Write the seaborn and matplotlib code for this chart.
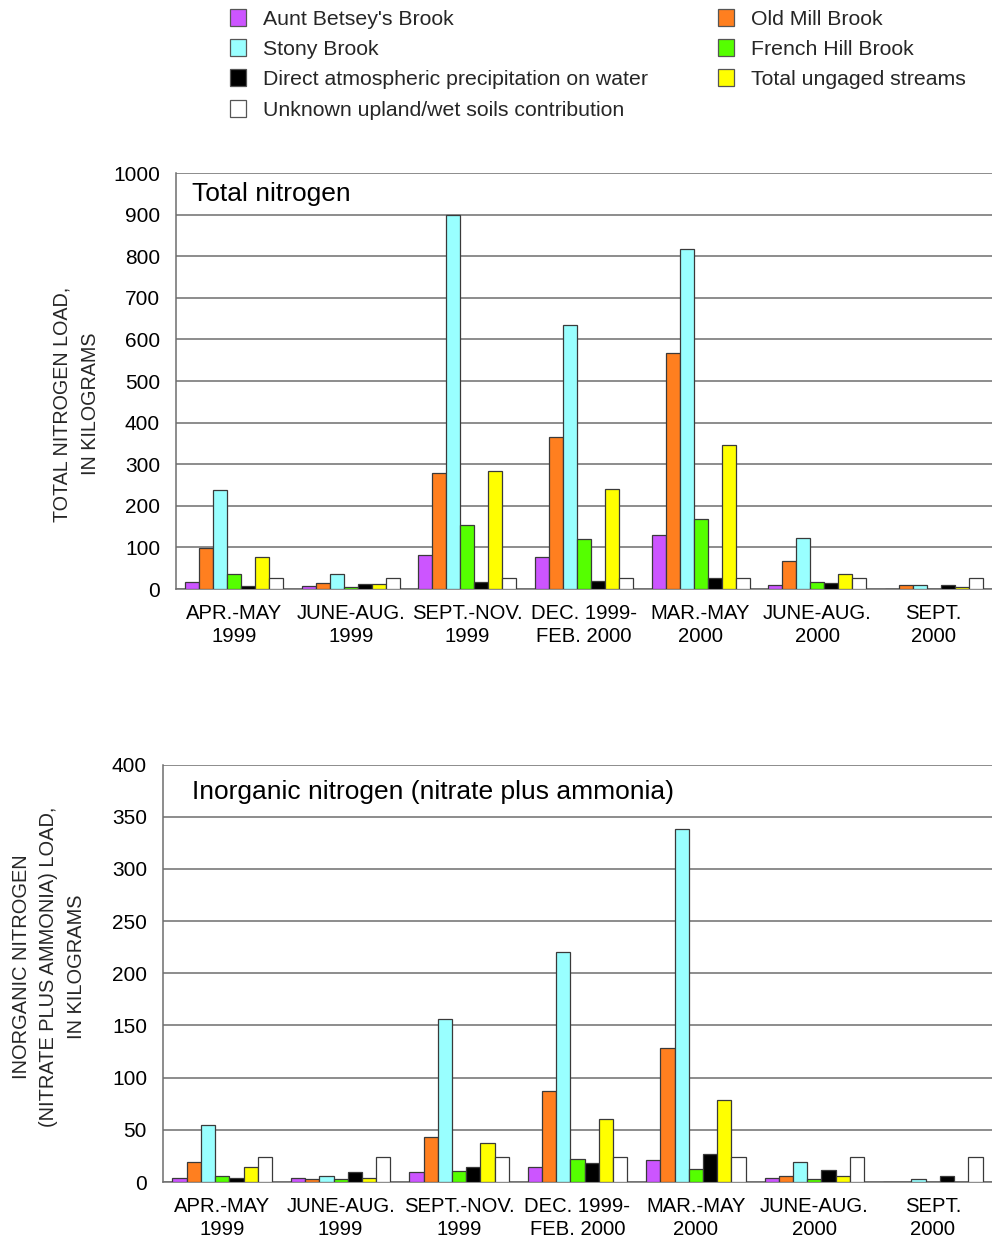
import matplotlib
matplotlib.use("Agg")
import matplotlib.pyplot as plt
from matplotlib.patches import Patch
from matplotlib.ticker import FixedLocator
import seaborn as sns
import pandas as pd

# Sampling periods (x-axis groups)
periods = ["APR.-MAY\n1999", "JUNE-AUG.\n1999", "SEPT.-NOV.\n1999",
           "DEC. 1999-\nFEB. 2000", "MAR.-MAY\n2000", "JUNE-AUG.\n2000",
           "SEPT.\n2000"]

# Sources, in bar order within each group
sources = ["Aunt Betsey's Brook", "Old Mill Brook", "Stony Brook",
           "French Hill Brook", "Direct atmospheric precipitation on water",
           "Total ungaged streams", "Unknown upland/wet soils contribution"]
source_colors = ["#CC55FF", "#FF7F1F", "#99FFFF", "#55FF00",
                 "#000000", "#FFFF00", "#FFFFFF"]

# Total nitrogen load, kg
tn_aunt_betsey = [18, 7, 81, 77, 129, 10, 0]
tn_old_mill = [98, 14, 278, 366, 567, 67, 9]
tn_stony = [238, 35, 899, 634, 817, 122, 9]
tn_french_hill = [35, 5, 153, 119, 168, 16, 0]
tn_precip = [7, 13, 16, 19, 27, 14, 10]
tn_ungaged = [77, 13, 283, 240, 345, 36, 5]
tn_unknown = [26, 26, 26, 26, 26, 26, 26]

# Inorganic nitrogen (nitrate plus ammonia) load, kg
in_aunt_betsey = [3.5, 3.5, 10, 14.5, 21, 3.5, 0]
in_old_mill = [19.5, 2.5, 43, 87, 128.5, 6, 0]
in_stony = [55, 6, 156.5, 220.5, 338, 19.5, 2.5]
in_french_hill = [6, 2.5, 11, 22.5, 12.5, 2.5, 0]
in_precip = [3.5, 10, 14.5, 18, 27, 11.5, 6]
in_ungaged = [14.5, 3.5, 37, 60.5, 78.5, 6, 0]
in_unknown = [23.5, 23.5, 23.5, 23.5, 23.5, 23.5, 23.5]

y_ticks_tn = [0, 100, 200, 300, 400, 500, 600, 700, 800, 900, 1000]
y_ticks_in = [0, 50, 100, 150, 200, 250, 300, 350, 400]


def long_frame(series):
    rows = []
    for src, vals in zip(sources, series):
        for per, v in zip(periods, vals):
            rows.append({"period": per, "source": src, "load": v})
    return pd.DataFrame(rows)


tn_df = long_frame([tn_aunt_betsey, tn_old_mill, tn_stony, tn_french_hill,
                    tn_precip, tn_ungaged, tn_unknown])
in_df = long_frame([in_aunt_betsey, in_old_mill, in_stony, in_french_hill,
                    in_precip, in_ungaged, in_unknown])

sns.set_theme(style="white")
plt.rcParams["font.family"] = ["Liberation Sans", "DejaVu Sans"]

W, H = 992, 1239
fig = plt.figure(figsize=(W / 100, H / 100), dpi=100)

GRID = "#6e6e6e"
EDGE = "#3a3a3a"


def px_axes(left, top, right, bottom):
    return fig.add_axes([left / W, 1 - bottom / H, (right - left) / W, (bottom - top) / H])


def draw_panel(ax, df, ticks, title, title_xy):
    sns.barplot(data=df, x="period", y="load", hue="source", order=periods,
                hue_order=sources, palette=source_colors, width=0.84,
                edgecolor=EDGE, linewidth=0.9, saturation=1, legend=False,
                errorbar=None, ax=ax, zorder=3)
    ax.set_xlim(-0.5, 6.5)
    ax.set_ylim(ticks[0], ticks[-1])
    ax.yaxis.set_major_locator(FixedLocator(ticks))
    ax.grid(axis="y", color=GRID, linewidth=1.1, zorder=0)
    ax.set_axisbelow(True)
    for s in ["top", "right"]:
        ax.spines[s].set_visible(False)
    for s in ["left", "bottom"]:
        ax.spines[s].set_color(GRID)
        ax.spines[s].set_linewidth(1.1)
    ax.set_xlabel("")
    ax.set_ylabel("")
    ax.tick_params(axis="y", which="major", length=8, width=1.1, color=GRID,
                   labelsize=15, pad=3.5, labelcolor="black")
    ax.tick_params(axis="x", which="major", length=0, labelsize=14.6, pad=11,
                   labelcolor="black")
    ax.xaxis.set_minor_locator(FixedLocator([0.5, 1.5, 2.5, 3.5, 4.5, 5.5]))
    ax.tick_params(axis="x", which="minor", length=7, width=1.1, color=GRID,
                   direction="out")
    for lab in ax.get_xticklabels():
        lab.set_linespacing(1.22)
    ax.text(title_xy[0], title_xy[1], title, transform=ax.transAxes,
            fontsize=19, ha="left", va="center", color="black")


ax1 = px_axes(176, 173, 992, 589)
draw_panel(ax1, tn_df, y_ticks_tn, "Total nitrogen", (0.0196, 0.9495))

ax2 = px_axes(163, 764.5, 992, 1182)
draw_panel(ax2, in_df, y_ticks_in, "Inorganic nitrogen (nitrate plus ammonia)",
           (0.035, 0.935))

fig.text(76 / W, 1 - 404 / H, "TOTAL NITROGEN LOAD,\nIN KILOGRAMS",
         rotation=90, ha="center", va="center", fontsize=14.2, linespacing=1.65)
fig.text(49 / W, 1 - 967 / H,
         "INORGANIC NITROGEN\n(NITRATE PLUS AMMONIA) LOAD,\nIN KILOGRAMS",
         rotation=90, ha="center", va="center", fontsize=14.4, linespacing=1.58)

# Legend split into two columns of sources
handles = {s: Patch(facecolor=c, edgecolor="#555555", linewidth=0.9)
           for s, c in zip(sources, source_colors)}
left_col = [sources[0], sources[2], sources[4], sources[6]]
right_col = [sources[1], sources[3], sources[5]]
leg_kw = dict(frameon=False, fontsize=15.3, handlelength=0.76, handleheight=0.85,
              handletextpad=0.8, labelspacing=0.49, borderpad=0, borderaxespad=0,
              loc="upper left")
fig.legend([handles[s] for s in left_col], left_col,
           bbox_to_anchor=(230 / W, 1 - 9 / H), **leg_kw)
fig.legend([handles[s] for s in right_col], right_col,
           bbox_to_anchor=(718 / W, 1 - 9 / H), **leg_kw)

fig.savefig("out.png", dpi=100)
